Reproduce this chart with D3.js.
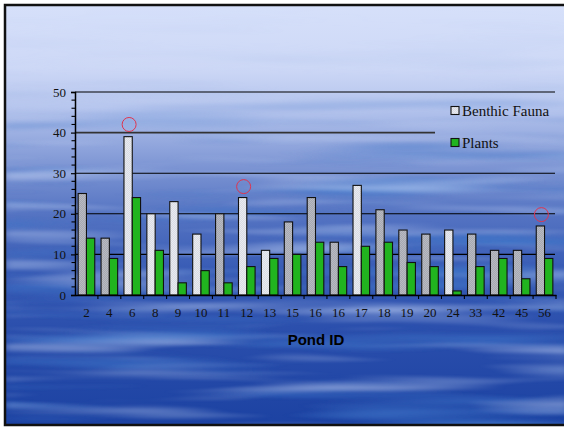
<!DOCTYPE html>
<html>
<head>
<meta charset="utf-8">
<script src="https://cdn.jsdelivr.net/npm/d3@7"></script>
<style>
  html, body { margin: 0; padding: 0; background: #fff; }
  svg { display: block; }
</style>
</head>
<body>
<svg id="chart" width="564" height="429"></svg>
<script>
// Pond survey: counts of benthic fauna taxa and plant taxa per pond
const ponds = ["2","4","6","8","9","10","11","12","13","15","16","16","17","18","19","20","24","33","42","45","56"];
const benthicFauna = [25,14,39,20,23,15,20,24,11,18,24,13,27,21,16,15,16,15,11,11,17];
const plants = [14,9,24,11,3,6,3,7,9,10,13,7,12,13,8,7,1,7,9,4,9];
const yTicks = [0,10,20,30,40,50];
const seriesNames = ["Benthic Fauna","Plants"];
// ponds flagged with a ring above the benthic bar (index into ponds, value height)
const flagged = [{i: 2, v: 42}, {i: 7, v: 26.7}, {i: 20, v: 19.8}];

const W = 564, H = 429;
const svg = d3.select("#chart");
const defs = svg.append("defs");

// ---- backdrop: pale sky at the top, deep blue water with streaks below
const bg = defs.append("linearGradient").attr("id", "bgGrad")
  .attr("x1", 0).attr("y1", 0).attr("x2", 0).attr("y2", 1);
[[0, "#d6e0fa"], [0.15, "#cdd8f6"], [0.25, "#b2c2ec"], [0.38, "#7e96d4"],
 [0.5, "#5473c2"], [0.62, "#3a5db6"], [0.78, "#2a4eac"], [1, "#1c42a2"]]
  .forEach(([o, c]) => bg.append("stop").attr("offset", o).attr("stop-color", c));

const streakMaskGrad = defs.append("linearGradient").attr("id", "streakMaskGrad")
  .attr("x1", 0).attr("y1", 0).attr("x2", 0).attr("y2", 1);
[[0, "#000"], [0.2, "#222"], [0.4, "#fff"], [1, "#fff"]]
  .forEach(([o, c]) => streakMaskGrad.append("stop").attr("offset", o).attr("stop-color", c));
defs.append("mask").attr("id", "streakMask")
  .append("rect").attr("width", W).attr("height", H).attr("fill", "url(#streakMaskGrad)");

const lightF = defs.append("filter").attr("id", "lightStreaks")
  .attr("x", 0).attr("y", 0).attr("width", 1).attr("height", 1);
lightF.append("feTurbulence").attr("type", "fractalNoise")
  .attr("baseFrequency", "0.004 0.07").attr("numOctaves", 2).attr("seed", 7);
lightF.append("feColorMatrix").attr("type", "matrix")
  .attr("values", "0 0 0 0 0.62  0 0 0 0 0.72  0 0 0 0 0.95  2.6 0 0 0 -1.25");
lightF.append("feGaussianBlur").attr("stdDeviation", "4 1.2");

const darkF = defs.append("filter").attr("id", "darkStreaks")
  .attr("x", 0).attr("y", 0).attr("width", 1).attr("height", 1);
darkF.append("feTurbulence").attr("type", "fractalNoise")
  .attr("baseFrequency", "0.0035 0.06").attr("numOctaves", 2).attr("seed", 19);
darkF.append("feColorMatrix").attr("type", "matrix")
  .attr("values", "0 0 0 0 0.05  0 0 0 0 0.18  0 0 0 0 0.58  -2.8 0 0 0 1.4");
darkF.append("feGaussianBlur").attr("stdDeviation", "4 1.2");

svg.append("rect").attr("x", 5).attr("y", 5).attr("width", W).attr("height", 421)
  .attr("fill", "url(#bgGrad)");
const streaks = svg.append("g").attr("mask", "url(#streakMask)");
streaks.append("rect").attr("x", 5).attr("y", 5).attr("width", W).attr("height", 421)
  .attr("filter", "url(#darkStreaks)").attr("opacity", 0.8);
streaks.append("rect").attr("x", 5).attr("y", 5).attr("width", W).attr("height", 421)
  .attr("filter", "url(#lightStreaks)").attr("opacity", 0.55);

// frame
svg.append("rect").attr("x", 5).attr("y", 5).attr("width", W + 4).attr("height", 420)
  .attr("fill", "none").attr("stroke", "#111").attr("stroke-width", 2.5);

// ---- fine hatch fills for the benthic bars
function hatch(id, base, line) {
  const p = defs.append("pattern").attr("id", id).attr("patternUnits", "userSpaceOnUse")
    .attr("width", 2).attr("height", 2);
  p.append("rect").attr("width", 2).attr("height", 2).attr("fill", base);
  p.append("path").attr("d", "M0,2 L2,0").attr("stroke", line).attr("stroke-width", 0.6);
}
hatch("hatchLight", "#e8eaf0", "#d0d2da");
hatch("hatchDark", "#b8bac2", "#9c9ea6");
const lightBarIdx = new Set([2, 3, 4, 5, 7, 8, 12, 16]);
const green = "#21b41f";

// ---- scales
const x0 = 75, x1 = 556, yBase = 295, yTop = 92;
const x = d3.scaleBand().domain(d3.range(ponds.length)).range([x0, x1]).paddingInner(0).paddingOuter(0);
const xs = d3.scaleBand().domain([0, 1]).range([0, x.bandwidth()]).paddingInner(0).paddingOuter(0.38);
const y = d3.scaleLinear().domain([0, 50]).range([yBase, yTop]);

// gridlines (the 40 line stops short of the legend)
const grid = svg.append("g");
grid.selectAll("line").data(yTicks.filter(t => t > 0)).join("line")
  .attr("x1", x0).attr("x2", t => t === 40 ? 435 : 555)
  .attr("y1", t => y(t)).attr("y2", t => y(t))
  .attr("stroke", t => t === 40 ? "#333" : "#000")
  .attr("stroke-width", t => t === 40 ? 1.6 : 1.1);

// ---- bars
const rows = ponds.map((p, i) => ({i, p, b: benthicFauna[i], pl: plants[i]}));
const g = svg.append("g");
g.selectAll("rect.benthic").data(rows).join("rect").attr("class", "benthic")
  .attr("x", d => x(d.i) + xs(0)).attr("width", xs.bandwidth())
  .attr("y", d => y(d.b)).attr("height", d => y(0) - y(d.b))
  .attr("fill", d => lightBarIdx.has(d.i) ? "url(#hatchLight)" : "url(#hatchDark)")
  .attr("stroke", "#111").attr("stroke-width", 1.1);
g.selectAll("rect.plants").data(rows).join("rect").attr("class", "plants")
  .attr("x", d => x(d.i) + xs(1)).attr("width", xs.bandwidth())
  .attr("y", d => y(d.pl)).attr("height", d => y(0) - y(d.pl))
  .attr("fill", green).attr("stroke", "#111").attr("stroke-width", 1.1);

// ---- axes
const tickFont = "'Liberation Serif', 'Times New Roman', serif";
const yAxis = svg.append("g").attr("transform", `translate(${x0},0)`)
  .call(d3.axisLeft(y).tickValues(yTicks).tickSize(4).tickPadding(5).tickFormat(d3.format("d")));
yAxis.selectAll("text").attr("font-family", tickFont).attr("font-size", 13).attr("fill", "#111");
yAxis.select(".domain").attr("stroke", "#000").attr("stroke-width", 1.5);
yAxis.selectAll(".tick line").attr("stroke", "#000").attr("stroke-width", 1.2);
// minor ticks every 2
svg.append("g").selectAll("line").data(d3.range(0, 51, 2).filter(v => v % 10))
  .join("line").attr("x1", x0 - 3.5).attr("x2", x0)
  .attr("y1", v => y(v)).attr("y2", v => y(v)).attr("stroke", "#000").attr("stroke-width", 1.1);

const xAxis = svg.append("g").attr("transform", `translate(0,${yBase})`)
  .call(d3.axisBottom(x).tickSize(0).tickPadding(13).tickFormat(i => ponds[i]));
xAxis.selectAll("text").attr("font-family", tickFont).attr("font-size", 13).attr("fill", "#111");
xAxis.select(".domain").attr("stroke", "#000").attr("stroke-width", 1.6);
// category separators below the axis
svg.append("g").selectAll("line").data(d3.range(1, ponds.length + 1))
  .join("line").attr("x1", i => x0 + i * x.step()).attr("x2", i => x0 + i * x.step())
  .attr("y1", yBase).attr("y2", yBase + 4).attr("stroke", "#000").attr("stroke-width", 1.1);

svg.append("text").attr("x", 316).attr("y", 345).attr("text-anchor", "middle")
  .attr("font-family", "'Liberation Sans', Arial, sans-serif").attr("font-weight", "bold")
  .attr("font-size", 15).attr("fill", "#000").text("Pond ID");

// ---- flag rings
svg.append("g").selectAll("circle").data(flagged).join("circle")
  .attr("cx", d => x(d.i) + xs(0) + xs.bandwidth() / 2 + 1)
  .attr("cy", d => y(d.v)).attr("r", 7)
  .attr("fill", "none").attr("stroke", "#e0344e").attr("stroke-width", 1);

// ---- legend
const legend = svg.append("g");
const legY = [106.5, 138.5];
seriesNames.forEach((name, k) => {
  legend.append("rect").attr("x", 451).attr("y", legY[k]).attr("width", 8).attr("height", 8)
    .attr("fill", k === 0 ? "url(#hatchLight)" : green).attr("stroke", "#111").attr("stroke-width", 1.1);
  legend.append("text").attr("x", 462).attr("y", legY[k] + 9.3)
    .attr("font-family", tickFont).attr("font-size", 15).attr("fill", "#111").text(name);
});
</script>
</body>
</html>
